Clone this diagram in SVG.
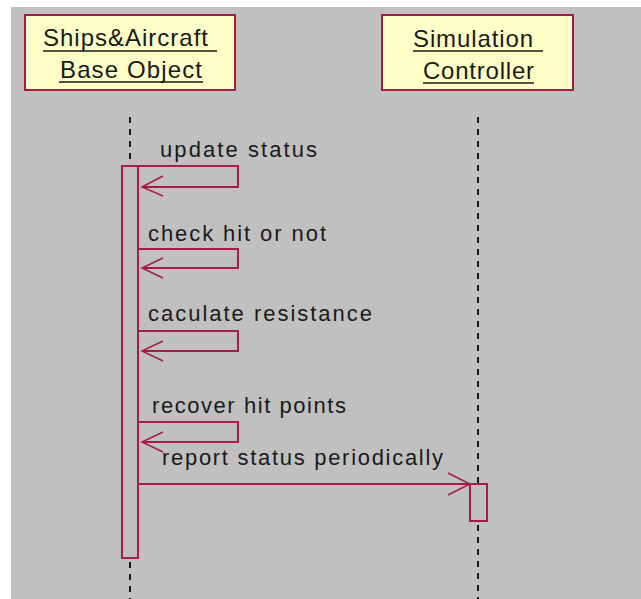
<svg xmlns="http://www.w3.org/2000/svg" width="641" height="599" viewBox="0 0 641 599">
<style>
.node rect.box{fill:#ffffc8;stroke:#a51c44;stroke-width:2}
.ttl{font-family:"Liberation Sans",Arial,sans-serif;font-size:24px;fill:#1a1a1a}
.ul{stroke:#1a1a1a;stroke-width:1.5}
.lbl{font-family:"Liberation Sans",Arial,sans-serif;font-size:22px;fill:#1a1a1a}
.life{stroke:#1a1a1a;stroke-width:2;stroke-dasharray:6 6;fill:none}
.act{fill:none;stroke:#a51c44;stroke-width:2}
.msg{fill:none;stroke:#a51c44;stroke-width:2}
.head{fill:none;stroke:#a51c44;stroke-width:1.5}
</style>
<rect x="11" y="7" width="630" height="592" fill="#c0c0c0"/>
<g id="lifelines">
<line class="life" x1="130" y1="117" x2="130" y2="166"/>
<line class="life" x1="130" y1="562" x2="130" y2="599"/>
<line class="life" x1="478" y1="117" x2="478" y2="484"/>
<line class="life" x1="478" y1="525" x2="478" y2="599"/>
</g>
<g id="ships-aircraft" class="node">
<rect class="box" x="25" y="15" width="210" height="75"/>
<text class="ttl" x="43" y="46" textLength="165" lengthAdjust="spacing">Ships&amp;Aircraft</text>
<line class="ul" x1="43" y1="51" x2="217" y2="51"/>
<text class="ttl" x="60" y="78" textLength="142" lengthAdjust="spacing">Base Object</text>
<line class="ul" x1="59" y1="82" x2="203" y2="82"/>
<rect class="act" x="122" y="166" width="16" height="392"/>
</g>
<g id="simulation-controller" class="node">
<rect class="box" x="382" y="15" width="191" height="75"/>
<text class="ttl" x="413" y="47" textLength="120" lengthAdjust="spacing">Simulation</text>
<line class="ul" x1="413" y1="51" x2="543" y2="51"/>
<text class="ttl" x="423" y="79" textLength="111" lengthAdjust="spacing">Controller</text>
<line class="ul" x1="423" y1="83" x2="534" y2="83"/>
<rect class="act" x="470" y="484" width="17" height="37"/>
</g>
<g id="connectors">
<path class="msg" d="M138 166 H238 V187 H142"/>
<path class="head" d="M163 176 L142 187 L163 196"/>
<text class="lbl" x="160" y="157" textLength="157" lengthAdjust="spacing">update status</text>
<path class="msg" d="M138 249 H238 V268 H142"/>
<path class="head" d="M163 258 L142 268 L163 278"/>
<text class="lbl" x="148" y="241" textLength="178" lengthAdjust="spacing">check hit or not</text>
<path class="msg" d="M138 331 H238 V351 H142"/>
<path class="head" d="M163 341 L142 351 L163 361"/>
<text class="lbl" x="148" y="321" textLength="224" lengthAdjust="spacing">caculate resistance</text>
<path class="msg" d="M138 422 H238 V442 H142"/>
<path class="head" d="M163 432 L142 442 L163 452"/>
<text class="lbl" x="152" y="413" textLength="194" lengthAdjust="spacing">recover hit points</text>
<path class="msg" d="M138 484 H470"/>
<path class="head" d="M448 473 L470 484 L448 495"/>
<text class="lbl" x="162" y="465" textLength="281" lengthAdjust="spacing">report status periodically</text>
</g>
</svg>
